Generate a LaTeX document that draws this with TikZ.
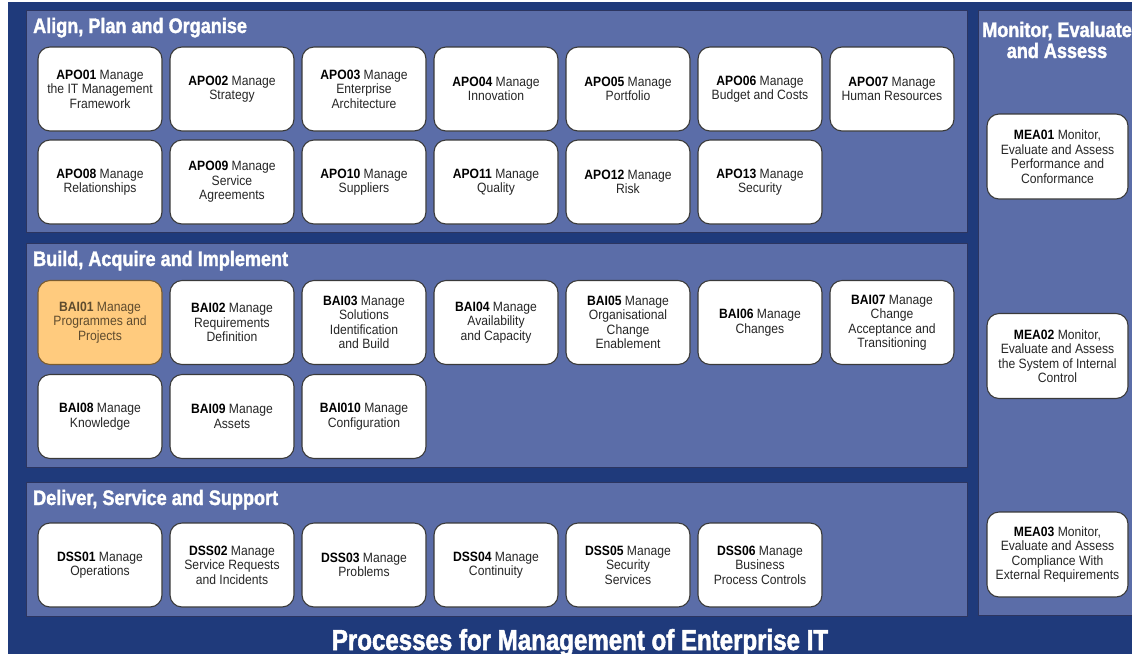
\documentclass[tikz,border=0pt]{standalone}
\usepackage{fontspec}
\setmainfont{Liberation Sans}
\newfontfamily\boxfont[FakeStretch=0.9]{Liberation Sans}
\newfontfamily\headfont[FakeStretch=0.86, BoldFeatures={FakeBold=1.6}]{Liberation Sans}
\newfontfamily\titlefont[FakeStretch=0.83, BoldFeatures={FakeBold=1.8}]{Liberation Sans}
\definecolor{navy}{HTML}{1F3A7B}
\definecolor{panelblue}{HTML}{5B6DA8}
\definecolor{panelline}{HTML}{2C3560}
\definecolor{boxline}{HTML}{3A3A3A}
\definecolor{boxtext}{HTML}{262626}
\definecolor{hlfill}{HTML}{FFCB7E}
\definecolor{hlline}{HTML}{7A5C30}
\definecolor{hltext}{HTML}{5E4B2E}
\newcommand\pcode[1]{{\bfseries\color{black}#1}}
\newcommand\hcode[1]{{\bfseries #1}}
\tikzset{
  panel/.style={fill=panelblue, draw=panelline, line width=0.9pt},
  head/.style={anchor=base west, inner sep=0pt, text=white, font={\headfont\bfseries\fontsize{21}{22}\selectfont}},
  procbox/.style={draw=boxline, fill=white, line width=1.1pt, rounded corners=12pt,
    minimum width=124pt, minimum height=84pt, inner sep=0pt, align=center, text=boxtext,
    font={\boxfont\fontsize{13.5}{14.5}\selectfont}},
  meabox/.style={procbox, minimum width=141pt, minimum height=85pt},
  hlbox/.style={procbox, fill=hlfill, draw=hlline, text=hltext}
}
\begin{document}
\begin{tikzpicture}[x=1pt,y=-1pt]
\useasboundingbox (0,0) rectangle (1132,654);
\fill[white] (0,0) rectangle (1132,654);
\fill[navy] (8,2) rectangle (1132,654);
% panels
\draw[panel] (26,10) rectangle (967,232);
\draw[panel] (26,243) rectangle (967,467);
\draw[panel] (26,482) rectangle (967,616);
\draw[panel] (978,10) rectangle (1140,615);
% headers
\node[head] (hapo) at (33,33) {Align, Plan and Organise};
\node[head] (hbai) at (33,266) {Build, Acquire and Implement};
\node[head] (hdss) at (33,505) {Deliver, Service and Support};
\node[anchor=base, inner sep=0pt, text=white, align=center, font={\headfont\bfseries\fontsize{21}{21}\selectfont}] (hmea) at (1057,58) {Monitor, Evaluate\\and Assess};
% APO row 1
\node[procbox] (apo01) at (100,89) {\pcode{APO01} Manage\\the IT Management\\Framework};
\node[procbox] (apo02) at (232,89) {\pcode{APO02} Manage\\Strategy};
\node[procbox] (apo03) at (364,89) {\pcode{APO03} Manage\\Enterprise\\Architecture};
\node[procbox] (apo04) at (496,89) {\pcode{APO04} Manage\\Innovation};
\node[procbox] (apo05) at (628,89) {\pcode{APO05} Manage\\Portfolio};
\node[procbox] (apo06) at (760,89) {\pcode{APO06} Manage\\Budget and Costs};
\node[procbox] (apo07) at (892,89) {\pcode{APO07} Manage\\Human Resources};
% APO row 2
\node[procbox] (apo08) at (100,182) {\pcode{APO08} Manage\\Relationships};
\node[procbox] (apo09) at (232,182) {\pcode{APO09} Manage\\Service\\Agreements};
\node[procbox] (apo10) at (364,182) {\pcode{APO10} Manage\\Suppliers};
\node[procbox] (apo11) at (496,182) {\pcode{APO11} Manage\\Quality};
\node[procbox] (apo12) at (628,182) {\pcode{APO12} Manage\\Risk};
\node[procbox] (apo13) at (760,182) {\pcode{APO13} Manage\\Security};
% BAI row 1
\node[hlbox] (bai01) at (100,322.5) {\hcode{BAI01} Manage\\Programmes and\\Projects};
\node[procbox] (bai02) at (232,322.5) {\pcode{BAI02} Manage\\Requirements\\Definition};
\node[procbox] (bai03) at (364,322.5) {\pcode{BAI03} Manage\\Solutions\\Identification\\and Build};
\node[procbox] (bai04) at (496,322.5) {\pcode{BAI04} Manage\\Availability\\and Capacity};
\node[procbox] (bai05) at (628,322.5) {\pcode{BAI05} Manage\\Organisational\\Change\\Enablement};
\node[procbox] (bai06) at (760,322.5) {\pcode{BAI06} Manage\\Changes};
\node[procbox] (bai07) at (892,322.5) {\pcode{BAI07} Manage\\Change\\Acceptance and\\Transitioning};
% BAI row 2
\node[procbox] (bai08) at (100,416.5) {\pcode{BAI08} Manage\\Knowledge};
\node[procbox] (bai09) at (232,416.5) {\pcode{BAI09} Manage\\Assets};
\node[procbox] (bai10) at (364,416.5) {\pcode{BAI010} Manage\\Configuration};
% DSS row
\node[procbox] (dss01) at (100,565) {\pcode{DSS01} Manage\\Operations};
\node[procbox] (dss02) at (232,565) {\pcode{DSS02} Manage\\Service Requests\\and Incidents};
\node[procbox] (dss03) at (364,565) {\pcode{DSS03} Manage\\Problems};
\node[procbox] (dss04) at (496,565) {\pcode{DSS04} Manage\\Continuity};
\node[procbox] (dss05) at (628,565) {\pcode{DSS05} Manage\\Security\\Services};
\node[procbox] (dss06) at (760,565) {\pcode{DSS06} Manage\\Business\\Process Controls};
% MEA
\node[meabox] (mea01) at (1057.5,156.5) {\pcode{MEA01} Monitor,\\Evaluate and Assess\\Performance and\\Conformance};
\node[meabox] (mea02) at (1057.5,356) {\pcode{MEA02} Monitor,\\Evaluate and Assess\\the System of Internal\\Control};
\node[meabox] (mea03) at (1057.5,554.5) {\pcode{MEA03} Monitor,\\Evaluate and Assess\\Compliance With\\External Requirements};
% title
\node[anchor=base, inner sep=0pt, text=white, font={\titlefont\bfseries\fontsize{29}{30}\selectfont}] (title) at (580,650) {Processes for Management of Enterprise IT};
\end{tikzpicture}
\end{document}
